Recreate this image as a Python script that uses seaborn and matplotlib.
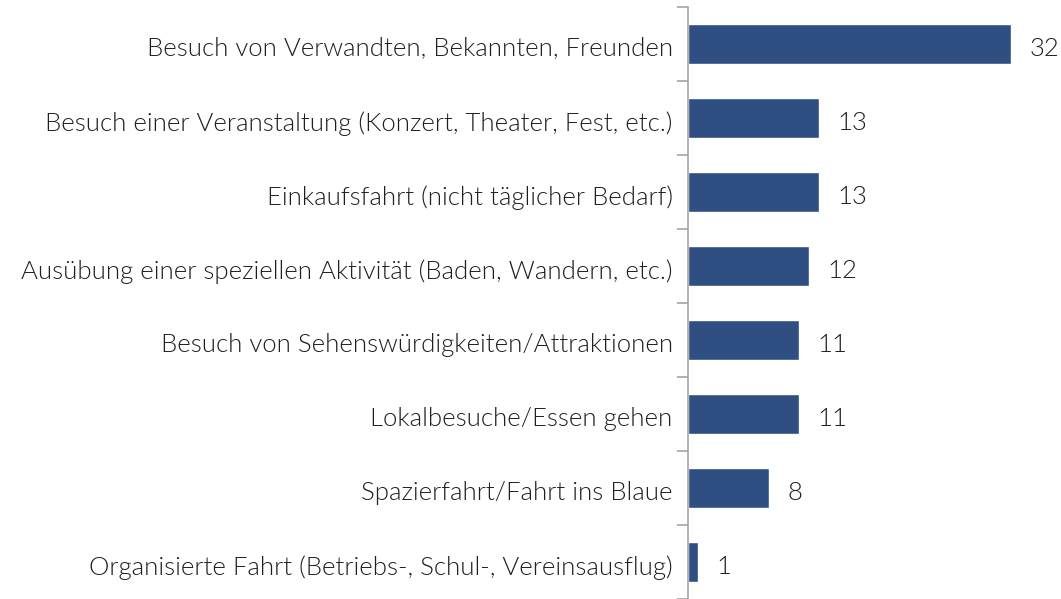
import matplotlib
matplotlib.use("Agg")
import matplotlib.pyplot as plt
import matplotlib.transforms as mtransforms
import seaborn as sns
import pandas as pd

categories = [
    "Besuch von Verwandten, Bekannten, Freunden",
    "Besuch einer Veranstaltung (Konzert, Theater, Fest, etc.)",
    "Einkaufsfahrt (nicht täglicher Bedarf)",
    "Ausübung einer speziellen Aktivität (Baden, Wandern, etc.)",
    "Besuch von Sehenswürdigkeiten/Attraktionen",
    "Lokalbesuche/Essen gehen",
    "Spazierfahrt/Fahrt ins Blaue",
    "Organisierte Fahrt (Betriebs-, Schul-, Vereinsausflug)",
]
values = [32, 13, 13, 12, 11, 11, 8, 1]

sns.set_theme(style="white")
plt.rcParams['font.family'] = ['Lato', 'DejaVu Sans']

df = pd.DataFrame({"cat": categories, "val": values})

fig = plt.figure(figsize=(10.61, 5.99), dpi=100)
ax = fig.add_axes([688/1061, 0, 1 - 688/1061, 1 - 7/599])
sns.barplot(data=df, x="val", y="cat", color="#2F4F82", saturation=1, width=0.55, ax=ax, orient="h")

ax.set_xlim(0, 36.9)
ax.set_ylim(len(categories) - 0.5, -0.5)
ax.set_xlabel("")
ax.set_ylabel("")
ax.set_xticks([])
for s in ["top", "right", "bottom"]:
    ax.spines[s].set_visible(False)
ax.spines["left"].set_color("#A6A6A6")
ax.spines["left"].set_linewidth(1.2)

FS = 18.5
TXT = "#1F1F1F"
shift = mtransforms.ScaledTranslation(0, -2.0 / 72, fig.dpi_scale_trans)

# ticks at category boundaries
ax.set_yticks([i - 0.5 for i in range(len(categories) + 1)], minor=True)
ax.set_yticks(range(len(categories)))
ax.set_yticklabels(categories, fontsize=FS, color=TXT, fontweight=300)
ax.tick_params(axis="y", which="major", length=0, pad=11)
ax.tick_params(axis="y", which="minor", length=8, width=1.2, color="#A6A6A6", left=True)
for lab in ax.get_yticklabels():
    lab.set_va("center_baseline")
    lab.set_transform(lab.get_transform() + shift)

for i, v in enumerate(values):
    ax.text(v + 1.8, i, str(v), va="center_baseline", ha="left", fontsize=FS,
            color=TXT, fontweight=300, transform=ax.transData + shift)

fig.savefig("out.png", dpi=100)
